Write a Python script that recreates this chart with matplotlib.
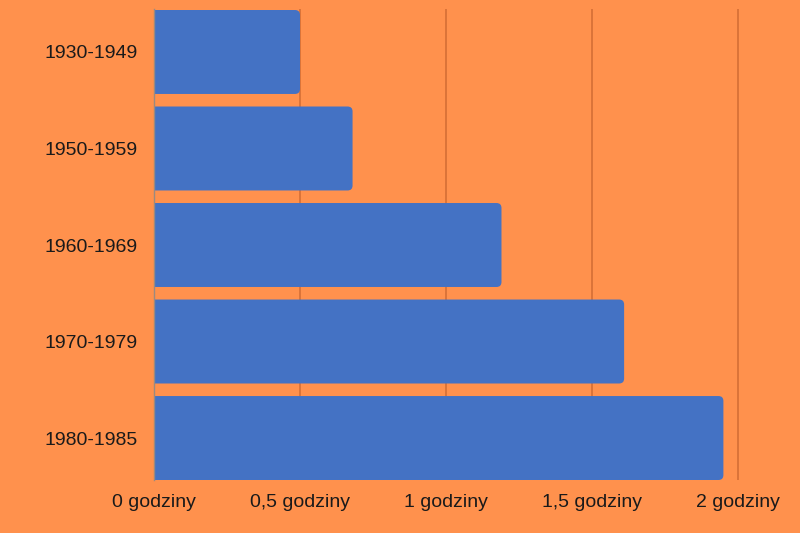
import matplotlib
matplotlib.use("Agg")
import matplotlib.pyplot as plt
from matplotlib.patches import FancyBboxPatch

# data
periods = ["1930-1949", "1950-1959", "1960-1969", "1970-1979", "1980-1985"]
hours = [0.50, 0.68, 1.19, 1.61, 1.95]
tick_vals = [0, 0.5, 1, 1.5, 2]
tick_labels = ["0 godziny", "0,5 godziny", "1 godziny", "1,5 godziny", "2 godziny"]

bg = "#FF914D"
bar_col = "#4472C4"

plt.rcParams['font.family'] = ['Liberation Sans', 'DejaVu Sans']

fig = plt.figure(figsize=(8, 5.33), dpi=100, facecolor=bg)
ax = fig.add_axes([154/800, 1-480/533, (745-154)/800, (480-9)/533])
ax.set_facecolor(bg)

h = 0.87
px_x = 292.0   # pixels per hour
px_y = 96.5    # pixels per category slot
r = 5 / px_x
for i, v in enumerate(hours):
    p = FancyBboxPatch((-r, i - h/2), v + r, h,
                       boxstyle="round,pad=0,rounding_size=%f" % r,
                       mutation_aspect=px_x/px_y,
                       facecolor=bar_col, edgecolor="none", zorder=3)
    ax.add_patch(p)

ax.set_xlim(0, 591/px_x)
ax.set_ylim(4 + h/2, -h/2 - 1/px_y)

ax.set_xticks(tick_vals)
ax.set_xticklabels(tick_labels, fontsize=14, color="#1a1a1a")
ax.set_yticks(range(len(periods)))
ax.set_yticklabels(periods, fontsize=14, color="#1a1a1a")
ax.tick_params(axis="x", length=0, pad=10)
ax.tick_params(axis="y", length=0, pad=12)

ax.xaxis.grid(True, color="#D46F36", linewidth=1.2, zorder=1)
ax.set_axisbelow(True)

for s in ["top", "right", "bottom"]:
    ax.spines[s].set_visible(False)
ax.spines["left"].set_color("#9a8a80")
ax.spines["left"].set_linewidth(1.0)
ax.spines["left"].set_zorder(4)

fig.savefig("out.png", dpi=100, facecolor=bg)
